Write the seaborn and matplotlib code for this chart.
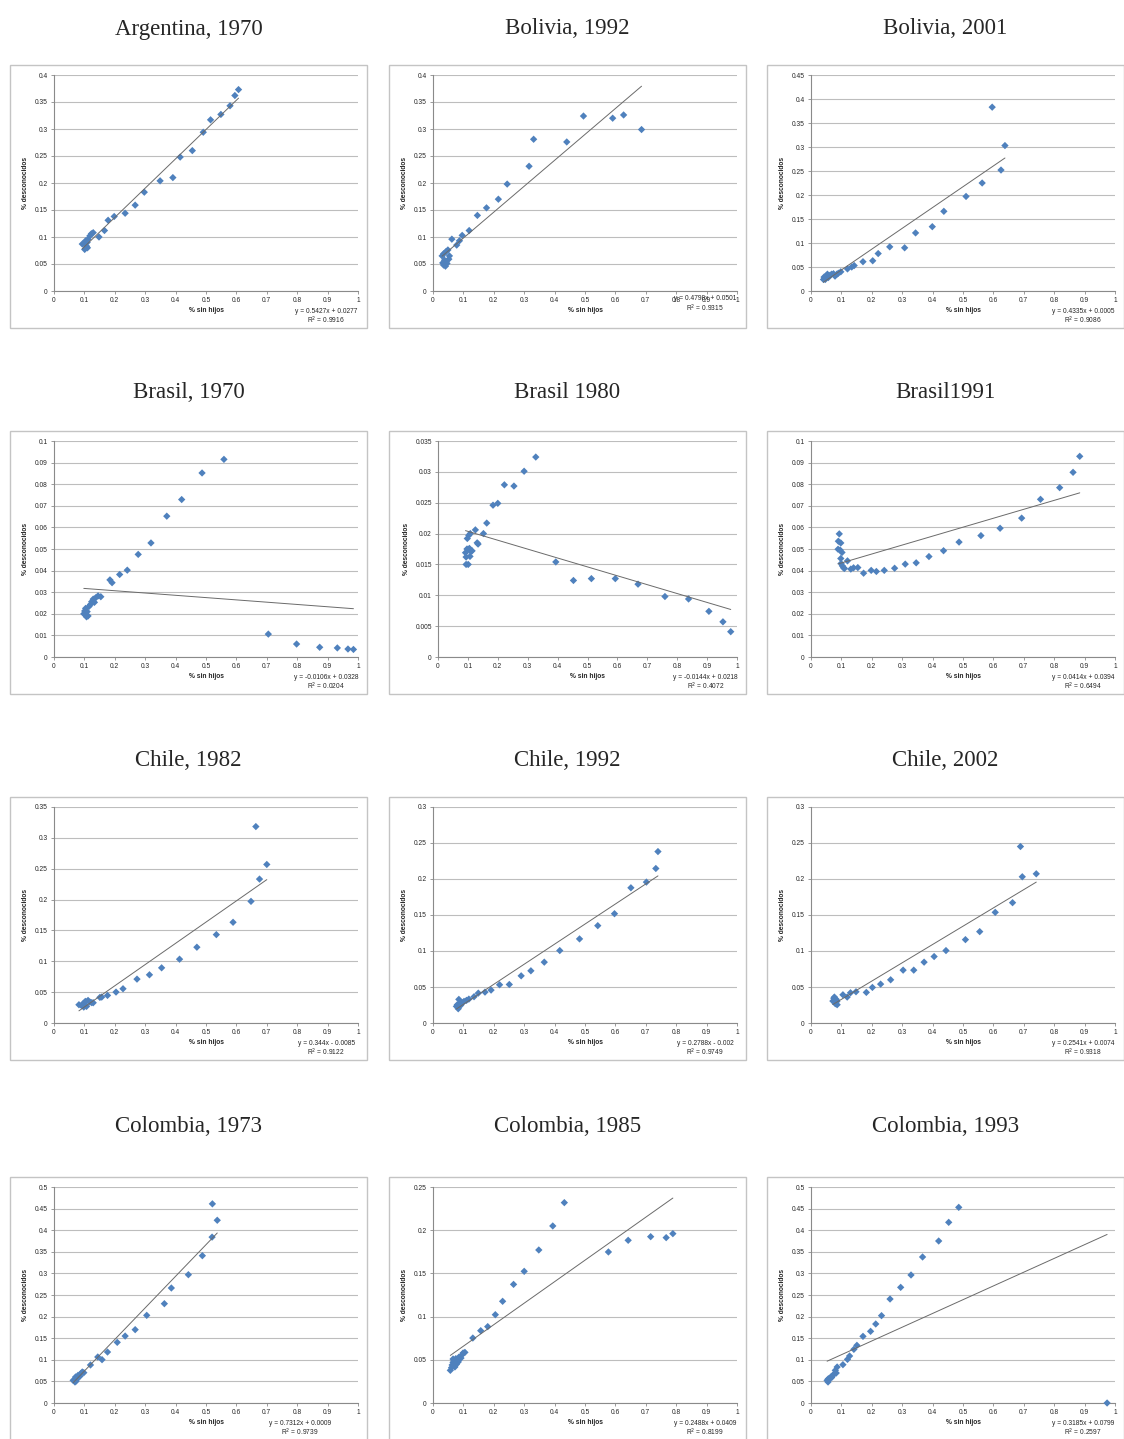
import numpy as np
import matplotlib
matplotlib.use("Agg")
import matplotlib.pyplot as plt
from matplotlib.patches import Rectangle
from matplotlib.ticker import FuncFormatter
import seaborn as sns

# Panel titles
titles = ["Argentina, 1970", "Bolivia, 1992", "Bolivia, 2001",
          "Brasil, 1970", "Brasil 1980", "Brasil1991",
          "Chile, 1982", "Chile, 1992", "Chile, 2002",
          "Colombia, 1973", "Colombia, 1985", "Colombia, 1993"]

# Data (% sin hijos, % desconocidos)
arg70_x = [0.093, 0.101, 0.107, 0.109, 0.112, 0.118, 0.123, 0.129, 0.104, 0.110,
           0.148, 0.166, 0.178, 0.198, 0.234, 0.267, 0.297, 0.349, 0.391, 0.415,
           0.455, 0.491, 0.515, 0.549, 0.579, 0.595, 0.607]
arg70_y = [0.087, 0.077, 0.083, 0.090, 0.096, 0.102, 0.106, 0.108, 0.093, 0.080,
           0.100, 0.112, 0.131, 0.138, 0.144, 0.159, 0.183, 0.204, 0.210, 0.248,
           0.260, 0.294, 0.317, 0.327, 0.343, 0.362, 0.373]

bol92_x = [0.030, 0.035, 0.043, 0.049, 0.032, 0.035, 0.041, 0.046, 0.052, 0.054, 0.038,
           0.062, 0.078, 0.087, 0.096, 0.119, 0.146, 0.176, 0.215, 0.244, 0.316,
           0.331, 0.440, 0.495, 0.591, 0.627, 0.686]
bol92_y = [0.065, 0.069, 0.073, 0.076, 0.052, 0.048, 0.046, 0.051, 0.059, 0.065, 0.057,
           0.096, 0.085, 0.093, 0.103, 0.112, 0.140, 0.154, 0.170, 0.198, 0.231,
           0.281, 0.276, 0.324, 0.320, 0.326, 0.299]

bol01_x = [0.041, 0.043, 0.049, 0.054, 0.057, 0.063, 0.068, 0.074, 0.079, 0.085, 0.090,
           0.098, 0.047, 0.120, 0.134, 0.142, 0.171, 0.203, 0.221, 0.259, 0.308,
           0.344, 0.399, 0.437, 0.510, 0.563, 0.596, 0.625, 0.638]
bol01_y = [0.024, 0.029, 0.031, 0.035, 0.028, 0.033, 0.035, 0.036, 0.031, 0.035, 0.037,
           0.040, 0.024, 0.046, 0.050, 0.053, 0.061, 0.063, 0.078, 0.092, 0.090,
           0.121, 0.134, 0.166, 0.197, 0.225, 0.383, 0.252, 0.303]

bra70_x = [0.098, 0.101, 0.104, 0.109, 0.112, 0.107, 0.115, 0.120, 0.124, 0.129, 0.133,
           0.137, 0.145, 0.154, 0.184, 0.191, 0.216, 0.241, 0.277, 0.319, 0.371,
           0.420, 0.487, 0.559, 0.705, 0.798, 0.874, 0.932, 0.967, 0.985]
bra70_y = [0.0200, 0.0213, 0.0225, 0.0210, 0.0190, 0.0186, 0.0234, 0.0243, 0.0256, 0.0268,
           0.0253, 0.0274, 0.0283, 0.0279, 0.0357, 0.0344, 0.0382, 0.0402, 0.0475, 0.0528,
           0.0652, 0.0729, 0.0852, 0.0915, 0.0106, 0.0060, 0.0045, 0.0042, 0.0037, 0.0035]

bra80_x = [0.092, 0.094, 0.097, 0.094, 0.101, 0.098, 0.103, 0.108, 0.105, 0.110, 0.114,
           0.107, 0.125, 0.131, 0.134, 0.152, 0.163, 0.184, 0.200, 0.222, 0.254,
           0.288, 0.327, 0.394, 0.453, 0.513, 0.593, 0.669, 0.759, 0.838, 0.906,
           0.953, 0.979]
bra80_y = [0.0169, 0.0162, 0.0175, 0.0150, 0.0150, 0.0192, 0.0197, 0.0200, 0.0176, 0.0171,
           0.0172, 0.0163, 0.0206, 0.0185, 0.0183, 0.0200, 0.0217, 0.0246, 0.0249, 0.0279,
           0.0277, 0.0301, 0.0324, 0.0154, 0.0124, 0.0127, 0.0127, 0.0118, 0.0098, 0.0094,
           0.0074, 0.0057, 0.0041]

bra91_x = [0.093, 0.090, 0.098, 0.089, 0.096, 0.102, 0.098, 0.099, 0.103, 0.107, 0.110,
           0.120, 0.131, 0.140, 0.154, 0.173, 0.198, 0.215, 0.241, 0.275, 0.310,
           0.346, 0.388, 0.436, 0.487, 0.559, 0.622, 0.693, 0.755, 0.818, 0.862, 0.884]
bra91_y = [0.0570, 0.0536, 0.0528, 0.0499, 0.0495, 0.0484, 0.0456, 0.0433, 0.0422, 0.0413,
           0.0410, 0.0445, 0.0407, 0.0413, 0.0414, 0.0388, 0.0401, 0.0396, 0.0401, 0.0411,
           0.0430, 0.0436, 0.0465, 0.0492, 0.0532, 0.0562, 0.0596, 0.0643, 0.0730, 0.0784,
           0.0855, 0.0929]

chi82_x = [0.082, 0.090, 0.096, 0.101, 0.107, 0.104, 0.112, 0.118, 0.098, 0.124, 0.129,
           0.151, 0.157, 0.176, 0.204, 0.227, 0.273, 0.314, 0.354, 0.413, 0.470,
           0.534, 0.589, 0.648, 0.664, 0.676, 0.700]
chi82_y = [0.0296, 0.0285, 0.0312, 0.0339, 0.0269, 0.0350, 0.0366, 0.0339, 0.0258, 0.0330, 0.0328,
           0.0415, 0.0420, 0.0447, 0.0501, 0.0555, 0.0711, 0.0781, 0.0894, 0.1034, 0.1228,
           0.1432, 0.1632, 0.1971, 0.3183, 0.2332, 0.2569]

chi92_x = [0.077, 0.083, 0.085, 0.088, 0.080, 0.091, 0.096, 0.102, 0.110, 0.118, 0.135,
           0.149, 0.171, 0.191, 0.219, 0.251, 0.290, 0.322, 0.366, 0.417, 0.482,
           0.542, 0.597, 0.651, 0.702, 0.733, 0.740]
chi92_y = [0.0231, 0.0198, 0.0328, 0.0268, 0.0254, 0.0245, 0.0282, 0.0300, 0.0314, 0.0332, 0.0365,
           0.0415, 0.0429, 0.0457, 0.0531, 0.0535, 0.0655, 0.0725, 0.0845, 0.1006, 0.1168,
           0.1352, 0.1518, 0.1878, 0.1957, 0.2146, 0.2381]

chi02_x = [0.072, 0.077, 0.083, 0.080, 0.086, 0.075, 0.085, 0.105, 0.119, 0.130, 0.148,
           0.182, 0.202, 0.229, 0.262, 0.303, 0.338, 0.372, 0.405, 0.444, 0.508,
           0.555, 0.606, 0.663, 0.689, 0.695, 0.741]
chi02_y = [0.0305, 0.0360, 0.0328, 0.0268, 0.0254, 0.0345, 0.0300, 0.0392, 0.0360, 0.0420, 0.0434,
           0.0425, 0.0494, 0.0540, 0.0600, 0.0734, 0.0734, 0.0845, 0.0923, 0.1006, 0.1158,
           0.1269, 0.1537, 0.1671, 0.2451, 0.2031, 0.2072]

col73_x = [0.063, 0.069, 0.071, 0.076, 0.079, 0.085, 0.088, 0.093, 0.098, 0.073,
           0.120, 0.144, 0.158, 0.176, 0.208, 0.234, 0.267, 0.305, 0.363, 0.386,
           0.442, 0.488, 0.520, 0.521, 0.537]
col73_y = [0.0525, 0.0486, 0.0602, 0.0563, 0.0640, 0.0617, 0.0679, 0.0718, 0.0702, 0.0510,
           0.088, 0.1065, 0.1003, 0.118, 0.1404, 0.155, 0.1698, 0.2029, 0.2299, 0.2662,
           0.297, 0.341, 0.384, 0.461, 0.423]

col85_x = [0.057, 0.061, 0.063, 0.066, 0.069, 0.072, 0.077, 0.083, 0.088, 0.094, 0.099,
           0.105, 0.066, 0.075, 0.085, 0.092, 0.131, 0.157, 0.180, 0.205, 0.229,
           0.265, 0.300, 0.348, 0.394, 0.432, 0.577, 0.642, 0.716, 0.767, 0.789]
col85_y = [0.0378, 0.0409, 0.0440, 0.0471, 0.0494, 0.0417, 0.0448, 0.0475, 0.0525, 0.0552, 0.0579,
           0.0586, 0.0509, 0.0513, 0.0530, 0.0520, 0.0752, 0.0837, 0.0884, 0.1022, 0.1177,
           0.1373, 0.1524, 0.1771, 0.2049, 0.2319, 0.1748, 0.1883, 0.1925, 0.1914, 0.1960]

col93_x = [0.053, 0.056, 0.061, 0.065, 0.068, 0.072, 0.077, 0.083, 0.080, 0.086, 0.057,
           0.105, 0.120, 0.127, 0.141, 0.151, 0.171, 0.196, 0.213, 0.232, 0.260,
           0.295, 0.329, 0.367, 0.420, 0.453, 0.486, 0.974]
col93_y = [0.0525, 0.0486, 0.0563, 0.0602, 0.0590, 0.0640, 0.0679, 0.0694, 0.0756, 0.0833, 0.0560,
           0.0887, 0.1010, 0.1088, 0.1242, 0.1335, 0.1543, 0.1659, 0.1829, 0.2022, 0.2407,
           0.2677, 0.2963, 0.3380, 0.3750, 0.4182, 0.4529, 0.0000]

xs_all = [arg70_x, bol92_x, bol01_x, bra70_x, bra80_x, bra91_x,
          chi82_x, chi92_x, chi02_x, col73_x, col85_x, col93_x]
ys_all = [arg70_y, bol92_y, bol01_y, bra70_y, bra80_y, bra91_y,
          chi82_y, chi92_y, chi02_y, col73_y, col85_y, col93_y]

# Linear trendlines as printed on the charts
slopes = [0.5427, 0.4798, 0.4335, -0.0106, -0.0144, 0.0414,
          0.344, 0.2788, 0.2541, 0.7312, 0.2488, 0.3185]
intercepts = [0.0277, 0.0501, 0.0005, 0.0328, 0.0218, 0.0394,
              -0.0085, -0.002, 0.0074, 0.0009, 0.0409, 0.0799]
eq_labels = ["y = 0.5427x + 0.0277", "y = 0.4798x + 0.0501", "y = 0.4335x + 0.0005",
             "y = -0.0106x + 0.0328", "y = -0.0144x + 0.0218", "y = 0.0414x + 0.0394",
             "y = 0.344x - 0.0085", "y = 0.2788x - 0.002", "y = 0.2541x + 0.0074",
             "y = 0.7312x + 0.0009", "y = 0.2488x + 0.0409", "y = 0.3185x + 0.0799"]
r2_labels = ["0.9916", "0.9315", "0.9086", "0.0204", "0.4072", "0.6494",
             "0.9122", "0.9749", "0.9318", "0.9739", "0.8199", "0.2597"]

# y-axis ranges
y_max = [0.4, 0.4, 0.45, 0.1, 0.035, 0.1, 0.35, 0.3, 0.3, 0.5, 0.25, 0.5]
y_step = [0.05, 0.05, 0.05, 0.01, 0.005, 0.01, 0.05, 0.05, 0.05, 0.05, 0.05, 0.05]

sns.set_style("white")
plt.rcParams['font.family'] = ['Liberation Sans', 'DejaVu Sans']

W, H = 1124, 1439
fig = plt.figure(figsize=(W / 100, H / 100), dpi=100)

box_left = [10, 389, 767]
box_top = [65, 431, 797, 1177]
title_y = [28, 392, 760, 1126]
box_w, box_h = 357, 263

blue = "#4f81bd"
small = 4.8

for i, title in enumerate(titles):
    r, c = divmod(i, 3)
    bl, bt = box_left[c], box_top[r]

    # chart area border
    fig.add_artist(Rectangle((bl / W, 1 - (bt + box_h) / H), box_w / W, box_h / H,
                             transform=fig.transFigure, fill=False,
                             edgecolor="#c4c4c4", lw=1.0))
    fig.text((bl + box_w / 2) / W, 1 - (title_y[r] + 1) / H, title, ha="center",
             va="center", fontsize=16.5, family="Liberation Serif")

    pad_l = 49 if i == 4 else 44
    ax = fig.add_axes([(bl + pad_l) / W, 1 - (bt + 226) / H,
                       (348 - pad_l) / W, 216 / H])

    x = np.array(xs_all[i])
    y = np.array(ys_all[i])
    sns.scatterplot(x=x, y=y, ax=ax, marker="D", s=14, color=blue,
                    edgecolor="none", clip_on=False, zorder=3)
    tx = np.array([x.min(), x.max()])
    sns.lineplot(x=tx, y=slopes[i] * tx + intercepts[i], ax=ax,
                 color="#6a6a6a", lw=0.7, zorder=4)

    ax.set_xlim(0, 1)
    ax.set_ylim(0, y_max[i])
    ax.set_xticks(np.round(np.linspace(0, 1, 11), 2))
    n = int(round(y_max[i] / y_step[i]))
    ax.set_yticks(np.round(np.linspace(0, y_max[i], n + 1), 4))
    fmt = FuncFormatter(lambda v, p: "{:g}".format(round(v, 4)))
    ax.xaxis.set_major_formatter(fmt)
    ax.yaxis.set_major_formatter(fmt)
    ax.yaxis.grid(True, color="#bdbdbd", lw=0.8)
    ax.xaxis.grid(False)
    for side in ["top", "right"]:
        ax.spines[side].set_visible(False)
    for side in ["left", "bottom"]:
        ax.spines[side].set_color("#8a8a8a")
        ax.spines[side].set_linewidth(0.8)
    ax.tick_params(axis="both", labelsize=small, length=2.5, width=0.6,
                   color="#8a8a8a", pad=2, direction="out",
                   bottom=True, left=True)

    ax.set_xlabel("% sin hijos", fontsize=small, fontweight="bold", labelpad=2)
    ax.set_ylabel("% desconocidos", fontsize=small, fontweight="bold", labelpad=4)

    # trendline label (in Bolivia 1992 it sits over the tick labels, as in the original)
    eq_x = 0.81 if i == 9 else 0.895
    eq_y = -0.037 if i == 1 else -0.093
    ax.text(eq_x, eq_y, eq_labels[i], transform=ax.transAxes, ha="center",
            va="center", fontsize=small)
    ax.text(eq_x, eq_y - 0.042, "R$^2$ = " + r2_labels[i], transform=ax.transAxes,
            ha="center", va="center", fontsize=small)

fig.savefig("out.png", dpi=100)
